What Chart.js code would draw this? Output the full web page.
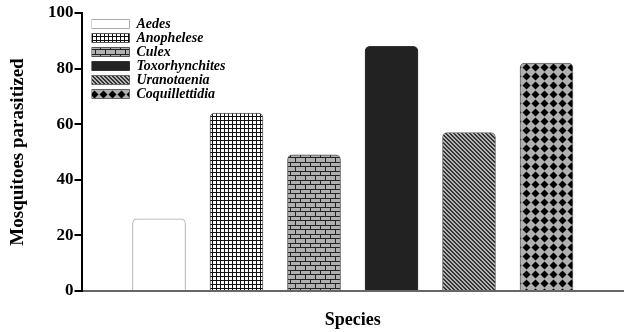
<!DOCTYPE html>
<html><head><meta charset="utf-8">
<script src="https://cdn.jsdelivr.net/npm/chart.js@4/dist/chart.umd.min.js"></script>
<style>html,body{margin:0;padding:0;background:#fff}#wrap{width:624px;height:332px}</style>
</head><body><div id="wrap"><canvas id="c" width="624" height="332"></canvas></div>
<script>
const categories = ['Aedes','Anophelese','Culex','Toxorhynchites','Uranotaenia','Coquillettidia'];
const values = [26, 64, 49, 88, 57, 82];
const yTicks = [0, 20, 40, 60, 80, 100];

function mk(w, h, draw) {
  const c = document.createElement('canvas'); c.width = w; c.height = h;
  const g = c.getContext('2d'); draw(g, w, h);
  return document.createElement('canvas').getContext('2d').createPattern(c, 'repeat');
}
const patterns = [
  '#ffffff',
  mk(4, 4, (g) => { g.fillStyle = '#fff'; g.fillRect(0,0,4,4); g.fillStyle = '#111'; g.fillRect(0,0,4,1); g.fillRect(0,0,1,4); }),
  mk(10, 9, (g) => { g.fillStyle = '#b0b0b0'; g.fillRect(0,0,10,9); g.fillStyle = '#222';
    g.fillRect(0,0,10,1); g.fillRect(0,4,10,1); g.fillRect(0,0,1,4); g.fillRect(5,4,1,5); }),
  '#222222',
  mk(4, 4, (g) => { g.fillStyle = '#b5b5b5'; g.fillRect(0,0,4,4); g.fillStyle = '#333';
    for (let i = 0; i < 4; i++) { g.fillRect(i, i, 1, 1); g.fillRect((i+1)%4, i, 1, 1); } }),
  mk(9, 9, (g) => { g.fillStyle = '#b0b0b0'; g.fillRect(0,0,9,9); g.fillStyle = '#000';
    g.beginPath(); g.moveTo(4.5,0.5); g.lineTo(8.5,4.5); g.lineTo(4.5,8.5); g.lineTo(0.5,4.5); g.closePath(); g.fill(); })
];
const borders = ['#aaa','#555','#555','#333','#666','#666'];

const labels = [''].concat(categories, ['']);
const data = [null].concat(values, [null]);
const bg = ['#fff'].concat(patterns, ['#fff']);
const bc = ['#fff'].concat(borders, ['#fff']);

const serif = "'Liberation Serif', 'Times New Roman', serif";

const legendShift = {
  id: 'legendShift',
  afterLayout(chart) { if (chart.legend) { chart.legend.left += 10; chart.legend.top += 17; } }
};

new Chart(document.getElementById('c'), {
  type: 'bar',
  data: { labels: labels, datasets: [{ data: data, backgroundColor: bg, borderColor: bc, borderWidth: 1,
    borderRadius: { topLeft: 5, topRight: 5, bottomLeft: 0, bottomRight: 0 }, borderSkipped: 'bottom', barThickness: 53 }] },
  plugins: [legendShift],
  options: {
    responsive: false, animation: false,
    layout: { padding: { top: 13, right: 0, left: 9, bottom: 3 } },
    plugins: {
      tooltip: { enabled: false },
      legend: {
        position: 'chartArea', align: 'start',
        labels: {
          boxWidth: 38, boxHeight: 9, padding: 0, useBorderRadius: true, borderRadius: 4,
          color: '#000', font: { family: serif, size: 14, style: 'italic', weight: 'bold', lineHeight: 1 },
          generateLabels: () => categories.map((c, i) => ({ text: c, fillStyle: patterns[i], strokeStyle: borders[i], lineWidth: 1, hidden: false, index: i }))
        }
      }
    },
    scales: {
      x: {
        offset: false,
        grid: { display: false, drawTicks: false },
        border: { color: '#666', width: 2 },
        ticks: { display: false },
        title: { display: true, text: 'Species', color: '#000', font: { family: serif, size: 18, weight: 'bold', lineHeight: 1 }, padding: { top: 20, bottom: 0 } }
      },
      y: {
        min: 0, max: 100,
        afterBuildTicks: (s) => { s.ticks = yTicks.map(v => ({ value: v })); },
        grid: { drawOnChartArea: false, drawTicks: true, tickLength: 7, color: '#000', lineWidth: 2 },
        border: { color: '#000', width: 2 },
        ticks: { color: '#000', padding: 1, font: { family: serif, size: 17, weight: 'bold' } },
        title: { display: true, text: 'Mosquitoes parasitized', color: '#000', font: { family: serif, size: 19, weight: 'bold', lineHeight: 1 }, padding: { top: 0, bottom: 19 } }
      }
    }
  }
});
</script></body></html>
